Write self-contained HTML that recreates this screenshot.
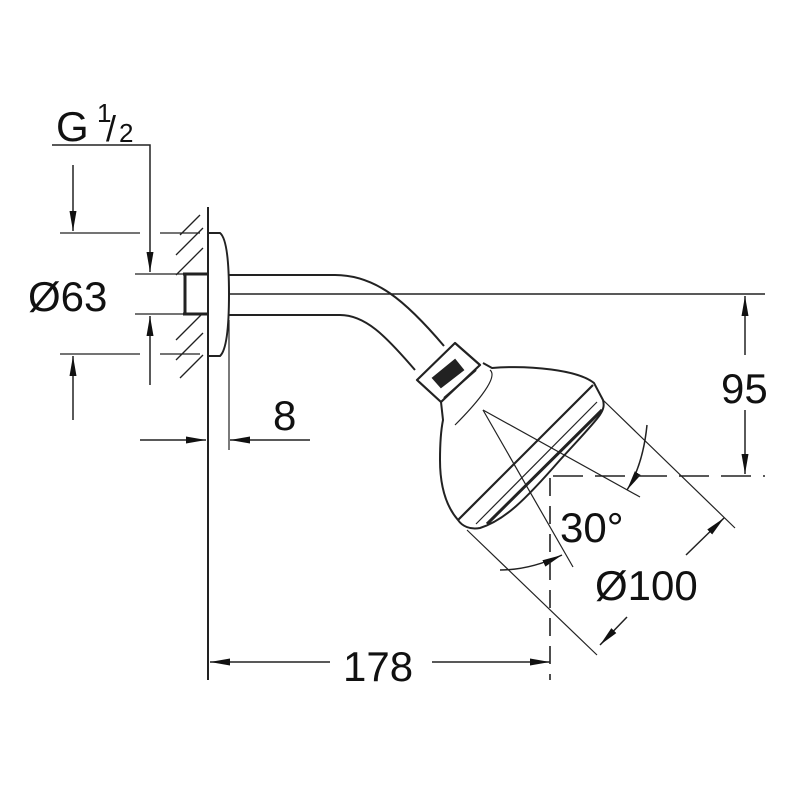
<!DOCTYPE html>
<html><head><meta charset="utf-8"><style>
html,body{margin:0;padding:0;background:#fff;}
svg{display:block;}
text{font-family:"Liberation Sans",Arial,sans-serif;fill:#111;}
</style></head><body>
<svg width="800" height="800" viewBox="0 0 800 800" xmlns="http://www.w3.org/2000/svg">
<defs>
<marker id="a" viewBox="0 0 20 8" refX="20" refY="4" markerWidth="20" markerHeight="8" markerUnits="userSpaceOnUse" orient="auto"><path d="M0,0.5 L20,4 L0,7.5 Z" fill="#111"/></marker>
</defs>
<g stroke="#222" fill="none" stroke-width="1.6">
<line x1="208" y1="207" x2="208" y2="680" stroke-width="2"/>
<g stroke-width="1.3">
<line x1="180" y1="235" x2="200" y2="215"/><line x1="176" y1="255" x2="203" y2="228"/>
<line x1="176" y1="275" x2="203" y2="248"/><line x1="176" y1="340" x2="203" y2="313"/>
<line x1="176" y1="360" x2="203" y2="333"/><line x1="180" y1="378" x2="203" y2="355"/>
</g>
<path d="M208,233 L220,233 Q229,240 229,294 Q229,348 220,356 L208,356" stroke-width="2"/>
<path d="M183,274 L208,274 M183,314 L208,314 M185,274 L185,314" stroke-width="3"/>
<path d="M229,275 L335,275 C375,275 405,300 444,346" stroke-width="2"/>
<path d="M229,315 L340,315 C365,315 385,335 415,370" stroke-width="2"/>
<line x1="229" y1="294" x2="765" y2="294" stroke-width="1.4"/>
<path d="M417,380 L455,343 L480,365 L441,402 Z" stroke-width="2.2" stroke-linejoin="round"/>
<path d="M433,378 L455,360 L463,370 L441,387 Z" fill="#222" stroke-width="2"/>
<path d="M444,398 L476,370" stroke-width="2"/>
<path d="M483,363 L492,368 C530,365 578,370 594,383 L603,400 C606,412 600,416 560,460 C525,500 505,520 480,528 C470,530 462,526 458,520 C445,505 440,485 440,460 C440,440 441,430 443,420 L441,402" stroke-width="2"/>
<path d="M593,385 L458,520" stroke-width="2.2"/>
<path d="M602,410 L487,524" stroke-width="3"/>
<path d="M597,402 L476,524" stroke-width="1.2"/>
<path d="M490,370 C500,378 470,410 455,425" stroke-width="1.2"/>
</g>
<g stroke="#222" fill="none" stroke-width="1.2">
<line x1="603" y1="400" x2="735" y2="528"/>
<line x1="467" y1="530" x2="597" y2="655"/>
<line x1="686" y1="555" x2="724" y2="518" marker-end="url(#a)" stroke-width="1.5"/>
<line x1="627" y1="617" x2="600" y2="645" marker-end="url(#a)" stroke-width="1.5"/>
<line x1="483" y1="410" x2="640" y2="497"/>
<line x1="483" y1="410" x2="573" y2="567"/>
<path d="M647,425 Q643,465 627,490" marker-end="url(#a)" stroke-width="1.5"/>
<path d="M500,570 Q530,570 562,555" marker-end="url(#a)" stroke-width="1.5"/>
<line x1="550" y1="478" x2="550" y2="680" stroke-dasharray="18,10" stroke-width="1.6"/>
<line x1="553" y1="476" x2="765" y2="476" stroke-dasharray="30,12" stroke-width="1.6"/>
<line x1="745" y1="355" x2="745" y2="296" marker-end="url(#a)" stroke-width="1.5"/>
<line x1="745" y1="410" x2="745" y2="474" marker-end="url(#a)" stroke-width="1.5"/>
<line x1="330" y1="662" x2="210" y2="662" marker-end="url(#a)" stroke-width="1.5"/>
<line x1="432" y1="662" x2="550" y2="662" marker-end="url(#a)" stroke-width="1.5"/>
<line x1="140" y1="440" x2="206" y2="440" marker-end="url(#a)" stroke-width="1.5"/>
<line x1="310" y1="440" x2="230" y2="440" marker-end="url(#a)" stroke-width="1.5"/>
<line x1="229" y1="320" x2="229" y2="450" stroke-width="1.2"/>
<line x1="60" y1="233" x2="140" y2="233"/><line x1="160" y1="233" x2="200" y2="233"/>
<line x1="60" y1="354" x2="140" y2="354"/><line x1="160" y1="354" x2="200" y2="354"/>
<line x1="73" y1="165" x2="73" y2="231" marker-end="url(#a)" stroke-width="1.5"/>
<line x1="73" y1="420" x2="73" y2="356" marker-end="url(#a)" stroke-width="1.5"/>
<path d="M52,145 L150,145 L150,272" marker-end="url(#a)" stroke-width="1.5"/>
<line x1="150" y1="385" x2="150" y2="316" marker-end="url(#a)" stroke-width="1.5"/>
<line x1="135" y1="274" x2="183" y2="274"/>
<line x1="135" y1="314" x2="183" y2="314"/>
</g>
<text x="56" y="141" font-size="42">G</text>
<text x="97" y="122" font-size="26">1</text>
<text x="106" y="141" font-size="36">/</text>
<text x="119" y="142" font-size="26">2</text>
<text x="28" y="311" font-size="42">Ø63</text>
<text x="273" y="430" font-size="42">8</text>
<text x="721" y="403" font-size="42">95</text>
<text x="560" y="542" font-size="42">30°</text>
<text x="595" y="600" font-size="42">Ø100</text>
<text x="343" y="681" font-size="42">178</text>
</svg>
</body></html>
